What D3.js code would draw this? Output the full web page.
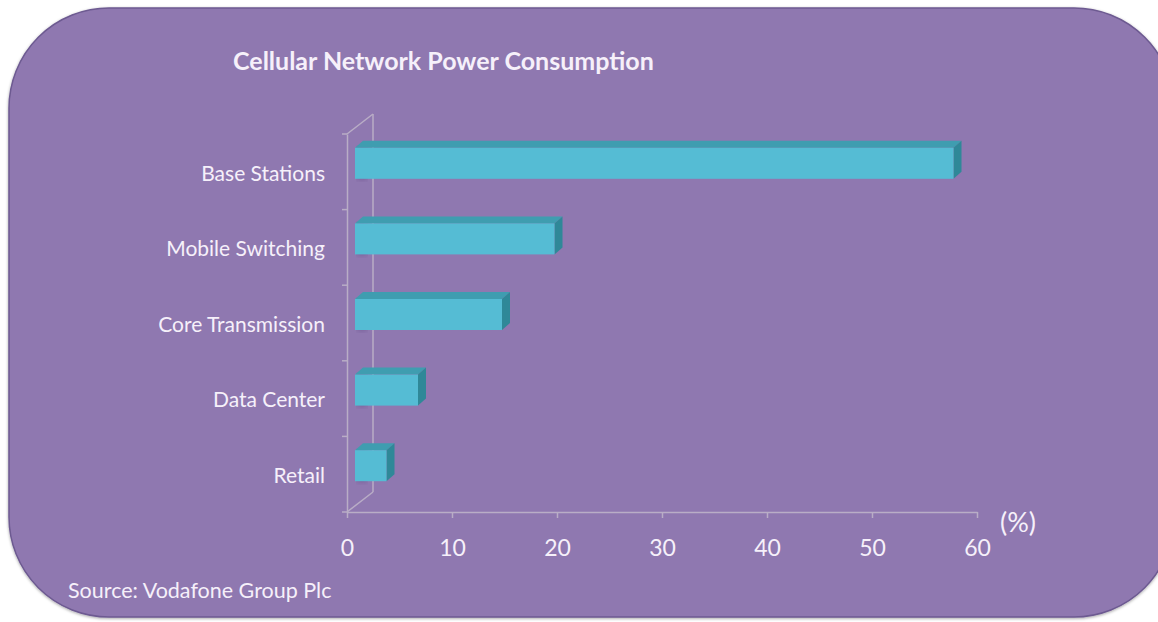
<!DOCTYPE html>
<html>
<head>
<meta charset="utf-8">
<script src="https://cdn.jsdelivr.net/npm/d3@7"></script>
<style>
  body { margin: 0; background: #ffffff; }
  text { font-family: Lato, "Open Sans", sans-serif; fill: #f6f0fa; }
</style>
</head>
<body>
<div id="chart"></div>
<script>
// data
const categories = ["Base Stations", "Mobile Switching", "Core Transmission", "Data Center", "Retail"];
const values = [57, 19, 14, 6, 3];
const xTicks = [0, 10, 20, 30, 40, 50, 60];

const width = 1158;
const height = 622;

// 3d offsets
const wallDx = 26, wallDy = -20;   // back wall depth
const barDx = 8, barDy = -7;       // bar depth
const barShift = 8;                // bar front face sits a bit into the depth

const svg = d3.select("#chart")
    .append("svg")
    .attr("width", width)
    .attr("height", height);

const defs = svg.append("defs");
defs.append("filter").attr("id", "blur")
    .append("feGaussianBlur").attr("stdDeviation", 3);
defs.append("filter").attr("id", "bgshadow")
    .append("feDropShadow")
    .attr("dx", 0).attr("dy", 1).attr("stdDeviation", 1.5)
    .attr("flood-color", "#000").attr("flood-opacity", 0.35);

// background panel
svg.append("rect")
    .attr("x", 9)
    .attr("y", 8)
    .attr("width", 1165)
    .attr("height", 609)
    .attr("rx", 100)
    .attr("fill", "#8f78b0")
    .attr("stroke", "#6d5a91")
    .attr("stroke-width", 1.5)
    .attr("filter", "url(#bgshadow)");

// scales
const x = d3.scaleLinear().domain([0, 60]).range([347, 977]);
const y = d3.scaleBand().domain(categories).range([134, 512]);

const axisColor = "#b9adc6";

// back wall + floor lines
const g = svg.append("g");
g.append("line")
    .attr("x1", x(0) + wallDx).attr("y1", y.range()[0] + wallDy)
    .attr("x2", x(0) + wallDx).attr("y2", y.range()[1] + wallDy)
    .attr("stroke", axisColor).attr("stroke-width", 1.5);
g.append("line")
    .attr("x1", x(0)).attr("y1", y.range()[0])
    .attr("x2", x(0) + wallDx).attr("y2", y.range()[0] + wallDy)
    .attr("stroke", axisColor).attr("stroke-width", 1.5);
g.append("line")
    .attr("x1", x(0)).attr("y1", y.range()[1])
    .attr("x2", x(0) + wallDx).attr("y2", y.range()[1] + wallDy)
    .attr("stroke", axisColor).attr("stroke-width", 1.5);

// shadows of bars on the wall
g.selectAll("rect.shadow")
    .data(categories)
    .enter()
    .append("rect")
    .attr("class", "shadow")
    .attr("x", x(0) + 10)
    .attr("y", d => y(d) + y.bandwidth() / 2 + barDy - 16)
    .attr("width", 10)
    .attr("height", 30)
    .attr("fill", "#5a3f7a")
    .attr("opacity", 0.55)
    .attr("filter", "url(#blur)");

// y axis (front)
const yAxis = g.append("g")
    .attr("transform", `translate(${x(0)},0)`)
    .call(d3.axisLeft(y).tickSize(0).tickPadding(22));
yAxis.select(".domain").attr("stroke", axisColor).attr("stroke-width", 1.5);
yAxis.selectAll("text")
    .attr("font-size", 21)
    .attr("fill", "#f6f0fa")
    .attr("dy", "0.42em");
// ticks between the bands
g.selectAll("line.ytick")
    .data(d3.range(categories.length + 1))
    .enter()
    .append("line")
    .attr("class", "ytick")
    .attr("x1", x(0) - 5).attr("x2", x(0))
    .attr("y1", i => y.range()[0] + i * y.step())
    .attr("y2", i => y.range()[0] + i * y.step())
    .attr("stroke", axisColor).attr("stroke-width", 1.5);

// x axis (front)
const xAxis = g.append("g")
    .attr("transform", `translate(0,${y.range()[1]})`)
    .call(d3.axisBottom(x).tickValues(xTicks).tickSize(6).tickSizeOuter(0).tickPadding(22));
xAxis.select(".domain").attr("stroke", axisColor).attr("stroke-width", 1.5);
xAxis.selectAll(".tick line").attr("stroke", axisColor).attr("stroke-width", 1.5);
xAxis.selectAll("text")
    .attr("font-size", 23)
    .attr("fill", "#f6f0fa");

// bars
const barH = 31;
const bars = g.selectAll("g.bar")
    .data(values)
    .enter()
    .append("g")
    .attr("class", "bar");

const bx0 = d => x(0) + barShift;
const bx1 = d => x(d) + barShift;
const by0 = (d, i) => y(categories[i]) + y.bandwidth() / 2 - barH / 2 - 8.5;

// top face
bars.append("path")
    .attr("d", (d, i) => {
        const x0 = bx0(d), x1 = bx1(d), y0 = by0(d, i);
        return `M${x0},${y0} L${x0 + barDx},${y0 + barDy} L${x1 + barDx},${y0 + barDy} L${x1},${y0} Z`;
    })
    .attr("fill", "#3f9db0");

// side face
bars.append("path")
    .attr("d", (d, i) => {
        const x1 = bx1(d), y0 = by0(d, i);
        return `M${x1},${y0} L${x1 + barDx},${y0 + barDy} L${x1 + barDx},${y0 + barDy + barH} L${x1},${y0 + barH} Z`;
    })
    .attr("fill", "#2f8898");

// front face
bars.append("rect")
    .attr("x", bx0)
    .attr("y", by0)
    .attr("width", d => bx1(d) - bx0(d))
    .attr("height", barH)
    .attr("fill", "#55bcd4");

// title
svg.append("text")
    .attr("x", 233)
    .attr("y", 70)
    .attr("font-size", 25)
    .attr("font-weight", "bold")
    .text("Cellular Network Power Consumption");

// unit label
svg.append("text")
    .attr("x", 1000)
    .attr("y", 532)
    .attr("font-size", 27)
    .text("(%)");

// source
svg.append("text")
    .attr("x", 68)
    .attr("y", 598)
    .attr("font-size", 21.5)
    .text("Source: Vodafone Group Plc");
</script>
</body>
</html>
